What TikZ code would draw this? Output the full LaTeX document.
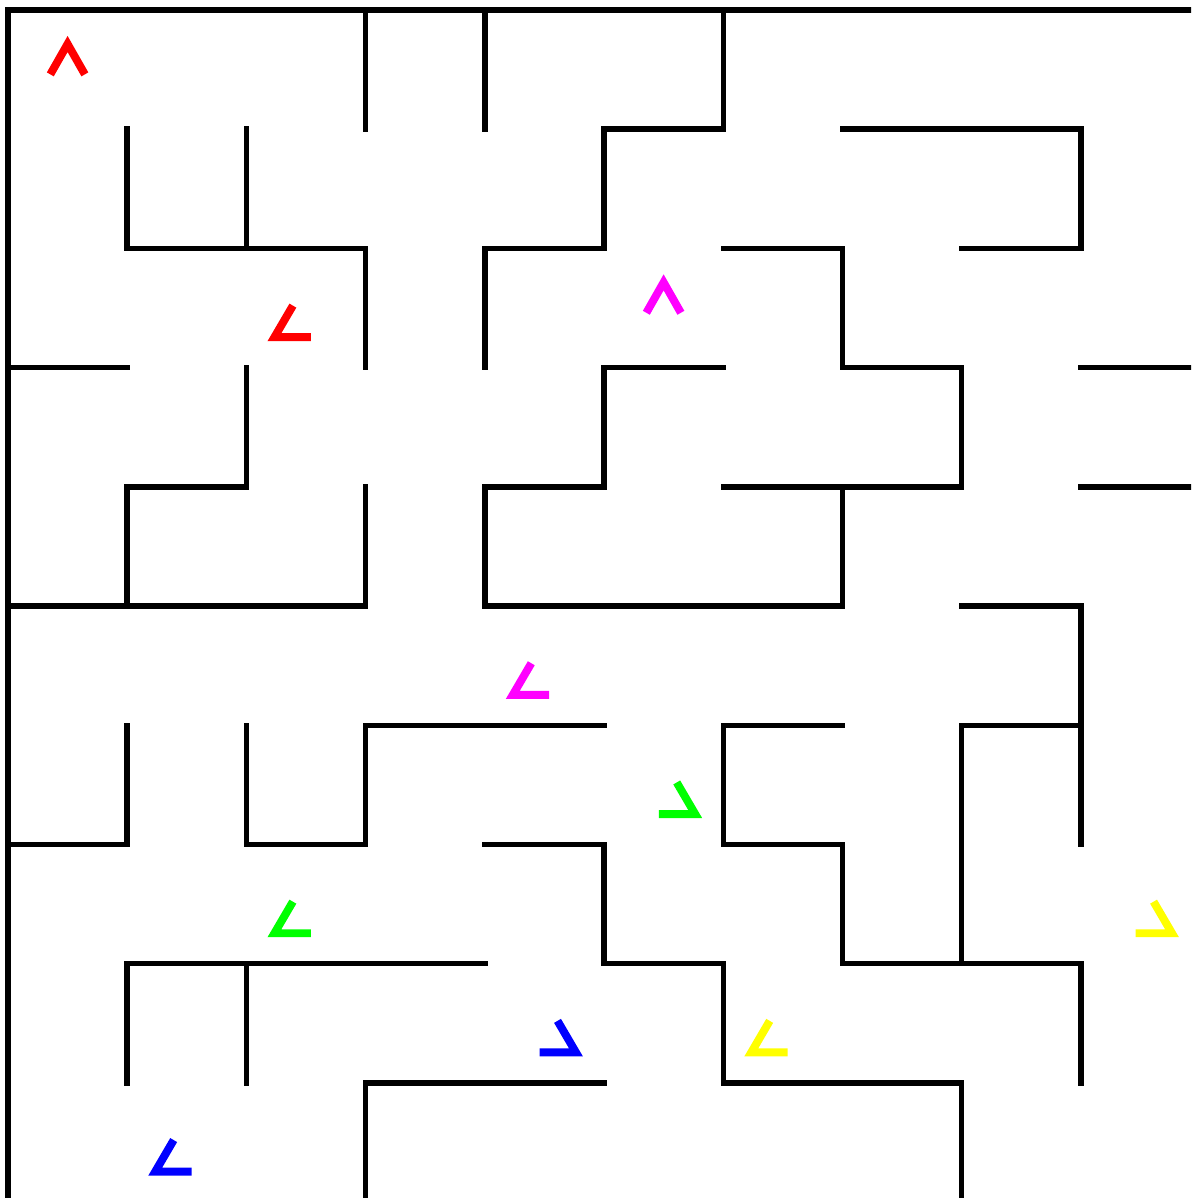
\documentclass[tikz,border=0pt]{standalone}
\usepackage{xcolor}
\usepackage{tikz}

\definecolor{agentred}{RGB}{255,0,0}
\definecolor{agentmagenta}{RGB}{255,0,255}
\definecolor{agentgreen}{RGB}{0,255,0}
\definecolor{agentyellow}{RGB}{255,255,0}
\definecolor{agentblue}{RGB}{0,0,255}

\begin{document}
\begin{tikzpicture}[
  x=1cm, y=-1cm,
  wall/.style={draw=black, line width=1.3pt, line cap=rect, line join=miter},
  agent/.style={line width=1.9pt, line cap=butt, line join=miter},
  agentup/.pic={\draw[agent] (-0.145,0.04) -- (0,-0.215) -- (0.145,0.04);},
  agentleft/.pic={\draw[agent] (-0.11,-0.02) -- (-0.265,0.245) -- (0.04,0.245);},
  agentright/.pic={\draw[agent] (0.11,-0.02) -- (0.265,0.245) -- (-0.04,0.245);}
]
\useasboundingbox (-0.067,-0.084) rectangle (9.925,9.966);
\clip (-0.067,-0.084) rectangle (9.925,9.966);

% Outer border
\draw[wall] (0,0) rectangle (10,10);

% Top part of the maze
\draw[wall] (3,0) -- (3,1);
\draw[wall] (4,0) -- (4,1);
\draw[wall] (6,0) -- (6,1) -- (5,1) -- (5,2) -- (4,2) -- (4,3);
\draw[wall] (7,1) -- (9,1) -- (9,2) -- (8,2);
\draw[wall] (1,1) -- (1,2) -- (3,2) -- (3,3);
\draw[wall] (2,1) -- (2,2);
\draw[wall] (6,2) -- (7,2) -- (7,3) -- (8,3) -- (8,4) -- (6,4);
\draw[wall] (9,3) -- (10,3);
\draw[wall] (9,4) -- (10,4);
\draw[wall] (0,3) -- (1,3);
\draw[wall] (2,3) -- (2,4) -- (1,4) -- (1,5);
\draw[wall] (0,5) -- (3,5) -- (3,4);
\draw[wall] (6,3) -- (5,3) -- (5,4) -- (4,4) -- (4,5) -- (7,5) -- (7,4);

% Bottom part of the maze
\draw[wall] (8,5) -- (9,5) -- (9,7);
\draw[wall] (8,8) -- (8,6) -- (9,6);
\draw[wall] (1,6) -- (1,7) -- (0,7);
\draw[wall] (2,6) -- (2,7) -- (3,7) -- (3,6) -- (5,6);
\draw[wall] (7,6) -- (6,6) -- (6,7) -- (7,7) -- (7,8) -- (9,8) -- (9,9);
\draw[wall] (4,7) -- (5,7) -- (5,8) -- (6,8) -- (6,9) -- (8,9) -- (8,10);
\draw[wall] (1,9) -- (1,8) -- (4,8);
\draw[wall] (2,8) -- (2,9);
\draw[wall] (5,9) -- (3,9) -- (3,10);

% Agents
\pic[agentred]     at (0.5,0.5) {agentup};
\pic[agentred]     at (2.5,2.5) {agentleft};
\pic[agentmagenta] at (5.5,2.5) {agentup};
\pic[agentmagenta] at (4.5,5.5) {agentleft};
\pic[agentgreen]   at (5.5,6.5) {agentright};
\pic[agentgreen]   at (2.5,7.5) {agentleft};
\pic[agentyellow]  at (9.5,7.5) {agentright};
\pic[agentblue]    at (4.5,8.5) {agentright};
\pic[agentyellow]  at (6.5,8.5) {agentleft};
\pic[agentblue]    at (1.5,9.5) {agentleft};

\end{tikzpicture}
\end{document}
